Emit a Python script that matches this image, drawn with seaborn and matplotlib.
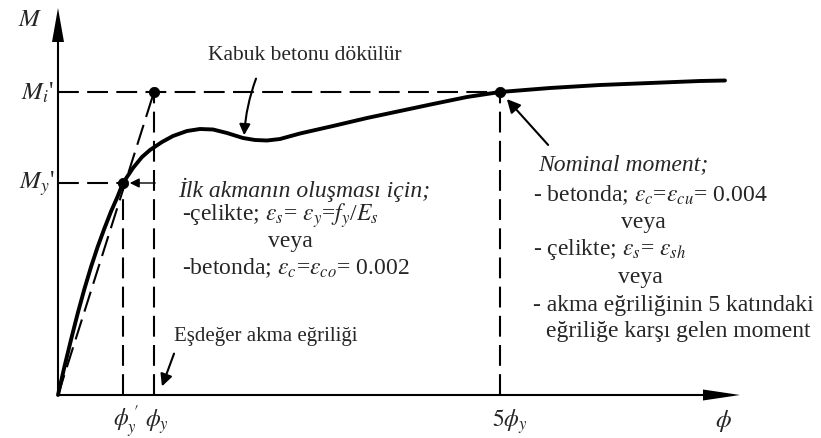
import matplotlib
matplotlib.use("Agg")
import matplotlib.pyplot as plt
import pandas as pd
import seaborn as sns

# Moment-curvature curve in drawing units (curvature -> x, moment -> y)
curve_phi = [0, 6.6, 13.2, 19.8, 26.4, 33, 39.6, 46.2, 52.8, 59.4, 65,
             75, 84, 92, 104, 115, 129, 142, 155, 169, 185, 197, 209,
             222, 242, 275, 309, 342, 375, 409, 442, 492, 542, 592, 642, 667]
curve_M = [0, 29, 56, 82, 106, 128, 148, 166, 183, 198, 212,
           227, 238, 245, 253, 259, 264, 266, 265.5, 262, 257, 255, 254.5,
           256, 261.5, 269, 277, 284, 291, 298, 303, 307, 310, 312, 314, 314.5]

# Characteristic curvatures and moments
phi_y_first = 65      # first yield curvature  (phi_y')
phi_y = 96            # equivalent yield curvature (phi_y)
phi_5y = 442          # five times yield curvature (5 phi_y)
M_y_first = 212       # first yield moment (M_y')
M_i = 303             # nominal moment (M_i')

key_phi = [phi_y_first, phi_y, phi_5y]
key_M = [M_y_first, M_i, M_i]

x_labels = [r"$\phi_y^{\;\prime}$", r"$\phi_y$", r"$5\phi_y$"]
y_labels = [r"$M_y$'", r"$M_i$'"]

sns.set_theme(style="white")
plt.rcParams["font.family"] = ["Liberation Serif", "DejaVu Serif"]
plt.rcParams["mathtext.fontset"] = "stix"

fig = plt.figure(figsize=(8.21, 4.39), dpi=100)
ax = fig.add_axes([0, 0, 1, 1])
ax.set_xlim(-58, 763)
ax.set_ylim(-43, 396)
ax.axis("off")

ink = "black"
dash = dict(color=ink, lw=1.5, dashes=(10, 4))

# Axes with filled arrowheads
ax.plot([0, 0], [0, 353], color=ink, lw=1.5)
ax.fill([-6, 6, 0], [353, 353, 387], color=ink, lw=0)
ax.plot([0, 645], [0, 0], color=ink, lw=1.5)
ax.fill([645, 645, 682], [-5.5, 5.5, 0], color=ink, lw=0)

# Reference dashed lines
ax.plot([0, phi_y_first], [M_y_first, M_y_first], **dash)
ax.plot([0, phi_5y], [M_i, M_i], **dash)
for p, m in zip(key_phi, [M_y_first, M_i, M_i]):
    ax.plot([p, p], [0, m], **dash)

# Secant through first yield to the equivalent yield point
secant = pd.DataFrame({"phi": [0, phi_y], "M": [0, M_i]})
sns.lineplot(data=secant, x="phi", y="M", ax=ax, color=ink, lw=1.5,
             sort=False, estimator=None, linestyle=(0, (10, 4)))

# Moment-curvature curve
curve = pd.DataFrame({"phi": curve_phi, "M": curve_M})
sns.lineplot(data=curve, x="phi", y="M", ax=ax, color=ink, lw=2.8,
             sort=False, estimator=None)

# Key points
pts = pd.DataFrame({"phi": key_phi, "M": key_M})
sns.scatterplot(data=pts, x="phi", y="M", ax=ax, color=ink, s=55,
                edgecolor=ink, zorder=5)

# Axis labels
ax.text(-28, 376, r"$M$", fontsize=18, ha="center", va="center")
ax.text(-21, M_i, y_labels[1], fontsize=18, ha="center", va="center")
ax.text(-21, M_y_first, y_labels[0], fontsize=18, ha="center", va="center")
ax.text(68, -31, x_labels[0], fontsize=17, ha="center", va="baseline")
ax.text(99, -31, x_labels[1], fontsize=17, ha="center", va="baseline")
ax.text(452, -31, x_labels[2], fontsize=17, ha="center", va="baseline")
ax.text(665, -31, r"$\phi$", fontsize=18, ha="center", va="baseline")

fs = 17
# Spalling of cover concrete
ax.text(247, 341, "Kabuk betonu dökülür", fontsize=15.5, ha="center", va="center")
ax.annotate("", xy=(186, 257), xytext=(199, 319),
            arrowprops=dict(arrowstyle="-|>", color=ink, lw=1.5,
                            mutation_scale=16,
                            connectionstyle="arc3,rad=0.08"))

# First yield
ax.annotate("", xy=(69, M_y_first), xytext=(100, M_y_first),
            arrowprops=dict(arrowstyle="-|>", color=ink, lw=1.0,
                            mutation_scale=14))
ax.text(120, 206, "İlk akmanın oluşması için;", fontsize=fs, style="italic",
        ha="left", va="center")
ax.text(124, 180, r"-çelikte; $\varepsilon_s$= $\varepsilon_y$=$f_y$/$E_s$",
        fontsize=fs, ha="left", va="center")
ax.text(232, 154, "veya", fontsize=fs, ha="center", va="center")
ax.text(124, 128, r"-betonda; $\varepsilon_c$=$\varepsilon_{co}$= 0.002",
        fontsize=fs, ha="left", va="center")

# Equivalent yield curvature
ax.text(116, 60, "Eşdeğer akma eğriliği", fontsize=15, ha="left", va="center")
ax.annotate("", xy=(103, 6), xytext=(117, 44),
            arrowprops=dict(arrowstyle="-|>", color=ink, lw=1.5,
                            mutation_scale=18))

# Nominal moment
ax.annotate("", xy=(447, 298), xytext=(492, 248),
            arrowprops=dict(arrowstyle="-|>", color=ink, lw=1.5,
                            mutation_scale=20))
ax.text(480, 231, "Nominal moment;", fontsize=fs, style="italic",
        ha="left", va="center")
ax.text(475, 201, r"- betonda; $\varepsilon_c$=$\varepsilon_{cu}$= 0.004",
        fontsize=fs, ha="left", va="center")
ax.text(585, 173, "veya", fontsize=fs, ha="center", va="center")
ax.text(475, 146, r"- çelikte; $\varepsilon_s$= $\varepsilon_{sh}$",
        fontsize=fs, ha="left", va="center")
ax.text(582, 118, "veya", fontsize=fs, ha="center", va="center")
ax.text(475, 91, "- akma eğriliğinin 5 katındaki", fontsize=fs,
        ha="left", va="center")
ax.text(620, 64, "eğriliğe karşı gelen moment", fontsize=fs,
        ha="center", va="center")

fig.savefig("out.png", dpi=100, facecolor="white")
